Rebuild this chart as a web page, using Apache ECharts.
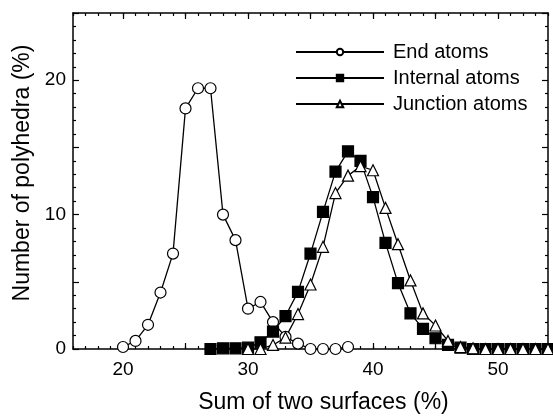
<!DOCTYPE html>
<html>
<head>
<meta charset="utf-8">
<script src="https://cdn.jsdelivr.net/npm/echarts@6/dist/echarts.min.js"></script>
<style>
html,body{margin:0;padding:0;background:#fff;}
#chart{width:553px;height:419px;}
</style>
</head>
<body>
<div id="chart"></div>
<script>
// ---- data ----
const seriesNames = ['End atoms', 'Internal atoms', 'Junction atoms'];

const endX = [20,21,22,23,24,25,26,27,28,29,30,31,32,33,34,35,36,37,38];
const endY = [0.15,0.6,1.8,4.2,7.1,17.9,19.4,19.4,10.0,8.1,3.0,3.5,2.0,0.9,0.4,0,0,0,0.15];

const internalX = [27,28,29,30,31,32,33,34,35,36,37,38,39,40,41,42,43,44,45,46,47,48,49,50,51,52,53,54];
const internalY = [0,0.05,0.05,0.1,0.5,1.3,2.45,4.25,7.1,10.2,13.2,14.7,14.0,11.3,7.9,4.9,2.65,1.5,0.8,0.3,0.1,0,0,0,0,0,0,0];

const junctionX = [30,31,32,33,34,35,36,37,38,39,40,41,42,43,44,45,46,47,48,49,50,51,52,53,54];
const junctionY = [0,0,0.3,0.85,2.6,4.8,7.6,11.6,12.9,13.6,13.3,10.5,7.8,5.1,2.65,1.75,0.6,0.15,0.05,0,0,0,0,0,0];

// axis ticks / labels
const xMin = 16, xMax = 54;
const xLabelValues = [20,30,40,50];
const xMajorTicks = [20,25,30,35,40,45,50];
const xMinorTicks = [];
for (let v = xMin; v <= xMax; v++) xMinorTicks.push(v);
const yMin = 0, yMax = 25;
const yLabelValues = [0,10,20];

const zip = (xs, ys) => xs.map((x, i) => [x, ys[i]]);

const FONT = 'Liberation Sans, Arial, Helvetica, sans-serif';
const black = '#000';

function xAxisDef(pos, major, showLabel, showLine, name) {
  const a = {
    type: 'value', position: pos, min: xMin, max: xMax,
    axisLine: {show: showLine, onZero: false, lineStyle: {color: black, width: 1.5}},
    axisTick: {show: true, inside: true, length: major ? 6 : 3,
               customValues: major ? xMajorTicks : xMinorTicks,
               lineStyle: {color: black, width: 1.2}},
    axisLabel: {show: showLabel, customValues: xLabelValues, color: black,
                fontFamily: FONT, fontSize: 19, margin: 11},
    splitLine: {show: false}
  };
  if (name) {
    a.name = name; a.nameLocation = 'middle'; a.nameGap = 42;
    a.nameTextStyle = {color: black, fontFamily: FONT, fontSize: 23, padding: [0, 0, 0, 26]};
  }
  return a;
}

function yAxisDef(pos, showLabel, name) {
  const a = {
    type: 'value', position: pos, min: yMin, max: yMax, interval: 5,
    axisLine: {show: true, onZero: false, lineStyle: {color: black, width: 1.5}},
    axisTick: {show: true, inside: true, length: 6, lineStyle: {color: black, width: 1.2}},
    minorTick: {show: true, splitNumber: 5, length: 3, lineStyle: {color: black, width: 1.2}},
    axisLabel: {show: showLabel, color: black, fontFamily: FONT, fontSize: 19, margin: 7,
                formatter: v => (yLabelValues.indexOf(v) >= 0 ? String(v) : '')},
    splitLine: {show: false},
    minorSplitLine: {show: false}
  };
  if (name) {
    a.name = name; a.nameLocation = 'middle'; a.nameGap = 38;
    a.nameTextStyle = {color: black, fontFamily: FONT, fontSize: 23, padding: [0, 0, 0, 16]};
  }
  return a;
}

function lineSeries(name, xs, ys, symbol, fill) {
  return {
    name: name, type: 'line', xAxisIndex: 0, yAxisIndex: 0,
    data: zip(xs, ys),
    symbol: symbol, symbolSize: 11,
    showAllSymbol: true,
    lineStyle: {color: black, width: 1.3},
    itemStyle: {color: fill, borderColor: black, borderWidth: 1.2},
    emphasis: {disabled: true}
  };
}

const chart = echarts.init(document.getElementById('chart'), null, {renderer: 'canvas'});
chart.setOption({
  animation: false,
  backgroundColor: '#fff',
  grid: {left: 73, right: 5, top: 13, bottom: 67, containLabel: false},
  legend: {
    orient: 'vertical', left: 290, top: 37,
    itemWidth: 88, itemHeight: 8, itemGap: 6,
    textStyle: {color: black, fontFamily: FONT, fontSize: 20, padding: [0,0,0,4]},
    data: seriesNames
  },
  xAxis: [
    xAxisDef('bottom', true, true, true, 'Sum of two surfaces (%)'),
    xAxisDef('bottom', false, false, false),
    xAxisDef('top', true, false, true),
    xAxisDef('top', false, false, false)
  ],
  yAxis: [
    yAxisDef('left', true, 'Number of polyhedra (%)'),
    yAxisDef('right', false)
  ],
  series: [
    lineSeries(seriesNames[0], endX, endY, 'circle', '#fff'),
    lineSeries(seriesNames[1], internalX, internalY, 'rect', '#000'),
    lineSeries(seriesNames[2], junctionX, junctionY, 'triangle', '#fff')
  ]
});
</script>
</body>
</html>
